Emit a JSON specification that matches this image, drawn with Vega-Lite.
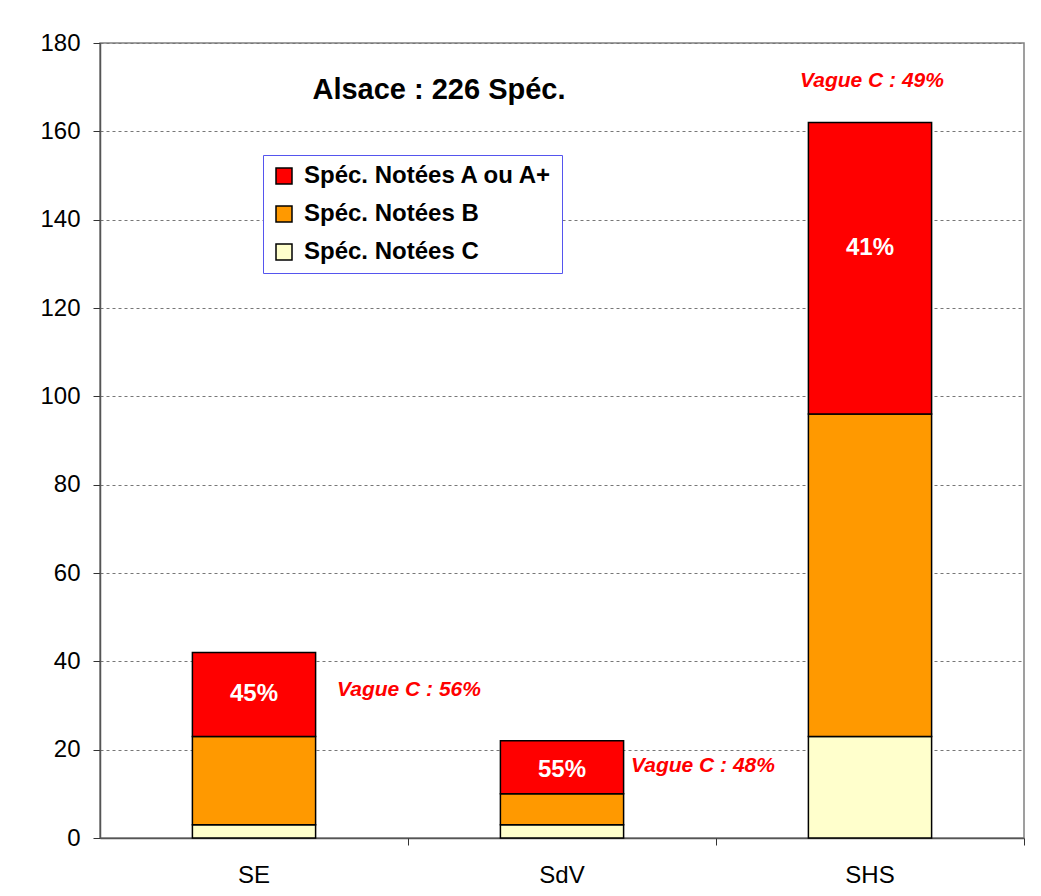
{
  "$schema": "https://vega.github.io/schema/vega-lite/v6.json",
  "width": 924,
  "height": 795,
  "autosize": {"type": "none"},
  "padding": {"left": 100, "top": 43, "right": 17, "bottom": 58},
  "background": "white",
  "title": {
    "text": "Alsace : 226 Spéc.",
    "anchor": "start",
    "frame": "group",
    "align": "center",
    "baseline": "middle",
    "dx": 339,
    "dy": 88,
    "offset": 0,
    "fontSize": 29,
    "fontWeight": "bold",
    "font": "Liberation Sans",
    "color": "black"
  },
  "datasets": {
    "bars": [
      {"cat": "SE", "serie": "Spéc. Notées C", "value": 3},
      {"cat": "SE", "serie": "Spéc. Notées B", "value": 20},
      {"cat": "SE", "serie": "Spéc. Notées A ou A+", "value": 19},
      {"cat": "SdV", "serie": "Spéc. Notées C", "value": 3},
      {"cat": "SdV", "serie": "Spéc. Notées B", "value": 7},
      {"cat": "SdV", "serie": "Spéc. Notées A ou A+", "value": 12},
      {"cat": "SHS", "serie": "Spéc. Notées C", "value": 23},
      {"cat": "SHS", "serie": "Spéc. Notées B", "value": 73},
      {"cat": "SHS", "serie": "Spéc. Notées A ou A+", "value": 66}
    ],
    "pct": [
      {"cat": "SE", "pos": 32.5, "label": "45%"},
      {"cat": "SdV", "pos": 15.5, "label": "55%"},
      {"cat": "SHS", "pos": 133.5, "label": "41%"}
    ],
    "notes": [
      {"cat": "SE", "pos": 33.5, "label": "Vague C : 56%"},
      {"cat": "SdV", "pos": 16.3, "label": "Vague C : 48%"},
      {"cat": "SHS", "pos": 171.4, "label": "Vague C : 49%"}
    ]
  },
  "layer": [
    {
      "data": {"name": "bars"},
      "mark": {"type": "bar", "stroke": "black", "strokeWidth": 1.5},
      "encoding": {
        "x": {
          "field": "cat",
          "type": "nominal",
          "sort": ["SE", "SdV", "SHS"],
          "scale": {"paddingInner": 0.6, "paddingOuter": 0.3},
          "axis": {
            "title": null,
            "orient": "bottom",
            "labelAngle": 0,
            "labelFontSize": 24,
            "labelColor": "black",
            "labelPadding": 25,
            "ticks": false,
            "domainColor": "#555555",
            "domainWidth": 1.5
          }
        },
        "y": {
          "field": "value",
          "type": "quantitative",
          "stack": "zero",
          "scale": {"domain": [0, 180], "nice": false},
          "axis": {
            "title": null,
            "values": [0, 20, 40, 60, 80, 100, 120, 140, 160, 180],
            "grid": true,
            "gridDash": [3, 3],
            "gridColor": "#777777",
            "gridWidth": 1,
            "labelFontSize": 24,
            "labelColor": "black",
            "labelPadding": 13,
            "tickSize": 7,
            "tickColor": "#333333",
            "domainColor": "#555555",
            "domainWidth": 1.5
          }
        },
        "color": {
          "field": "serie",
          "type": "nominal",
          "scale": {
            "domain": ["Spéc. Notées A ou A+", "Spéc. Notées B", "Spéc. Notées C"],
            "range": ["#FF0000", "#FF9900", "#FFFFCC"]
          },
          "legend": {
            "title": null,
            "orient": "none",
            "legendX": 163,
            "legendY": 112,
            "fillColor": "white",
            "strokeColor": "#5555EE",
            "padding": 9,
            "symbolType": "square",
            "symbolSize": 256,
            "symbolStrokeColor": "black",
            "symbolStrokeWidth": 1.5,
            "symbolOpacity": 1,
            "labelFontSize": 24,
            "labelFontWeight": "bold",
            "labelColor": "black",
            "labelLimit": 400,
            "labelOffset": 8,
            "rowPadding": 14
          }
        },
        "order": {"field": "serie", "sort": "descending"}
      }
    },
    {
      "data": {"name": "pct"},
      "mark": {"type": "text", "color": "white", "fontSize": 24, "fontWeight": "bold", "font": "Liberation Sans", "baseline": "middle"},
      "encoding": {
        "x": {
          "field": "cat",
          "type": "nominal",
          "sort": ["SE", "SdV", "SHS"],
          "axis": {
            "title": null,
            "orient": "bottom",
            "bandPosition": 1.75,
            "labels": false,
            "ticks": true,
            "tickSize": 7,
            "tickColor": "#333333",
            "domain": false,
            "grid": false
          }
        },
        "y": {"field": "pos", "type": "quantitative"},
        "text": {"field": "label"}
      }
    },
    {
      "data": {"name": "notes"},
      "transform": [{"filter": "datum.cat === 'SE'"}],
      "mark": {"type": "text", "color": "#FF0000", "fontSize": 21, "fontWeight": "bold", "fontStyle": "italic", "font": "Liberation Sans", "baseline": "middle", "align": "left", "dx": 83},
      "encoding": {
        "x": {"field": "cat", "type": "nominal", "sort": ["SE", "SdV", "SHS"], "axis": null},
        "y": {"field": "pos", "type": "quantitative"},
        "text": {"field": "label"}
      }
    },
    {
      "data": {"name": "notes"},
      "transform": [{"filter": "datum.cat === 'SdV'"}],
      "mark": {"type": "text", "color": "#FF0000", "fontSize": 21, "fontWeight": "bold", "fontStyle": "italic", "font": "Liberation Sans", "baseline": "middle", "align": "left", "dx": 69},
      "encoding": {
        "x": {"field": "cat", "type": "nominal", "sort": ["SE", "SdV", "SHS"], "axis": null},
        "y": {"field": "pos", "type": "quantitative"},
        "text": {"field": "label"}
      }
    },
    {
      "data": {"name": "notes"},
      "transform": [{"filter": "datum.cat === 'SHS'"}],
      "mark": {"type": "text", "color": "#FF0000", "fontSize": 21, "fontWeight": "bold", "fontStyle": "italic", "font": "Liberation Sans", "baseline": "middle", "align": "center", "dx": 2},
      "encoding": {
        "x": {"field": "cat", "type": "nominal", "sort": ["SE", "SdV", "SHS"], "axis": null},
        "y": {"field": "pos", "type": "quantitative"},
        "text": {"field": "label"}
      }
    }
  ],
  "resolve": {"axis": {"x": "independent"}},
  "config": {
    "font": "Liberation Sans",
    "view": {"stroke": "#808080", "strokeWidth": 1.5}
  }
}
